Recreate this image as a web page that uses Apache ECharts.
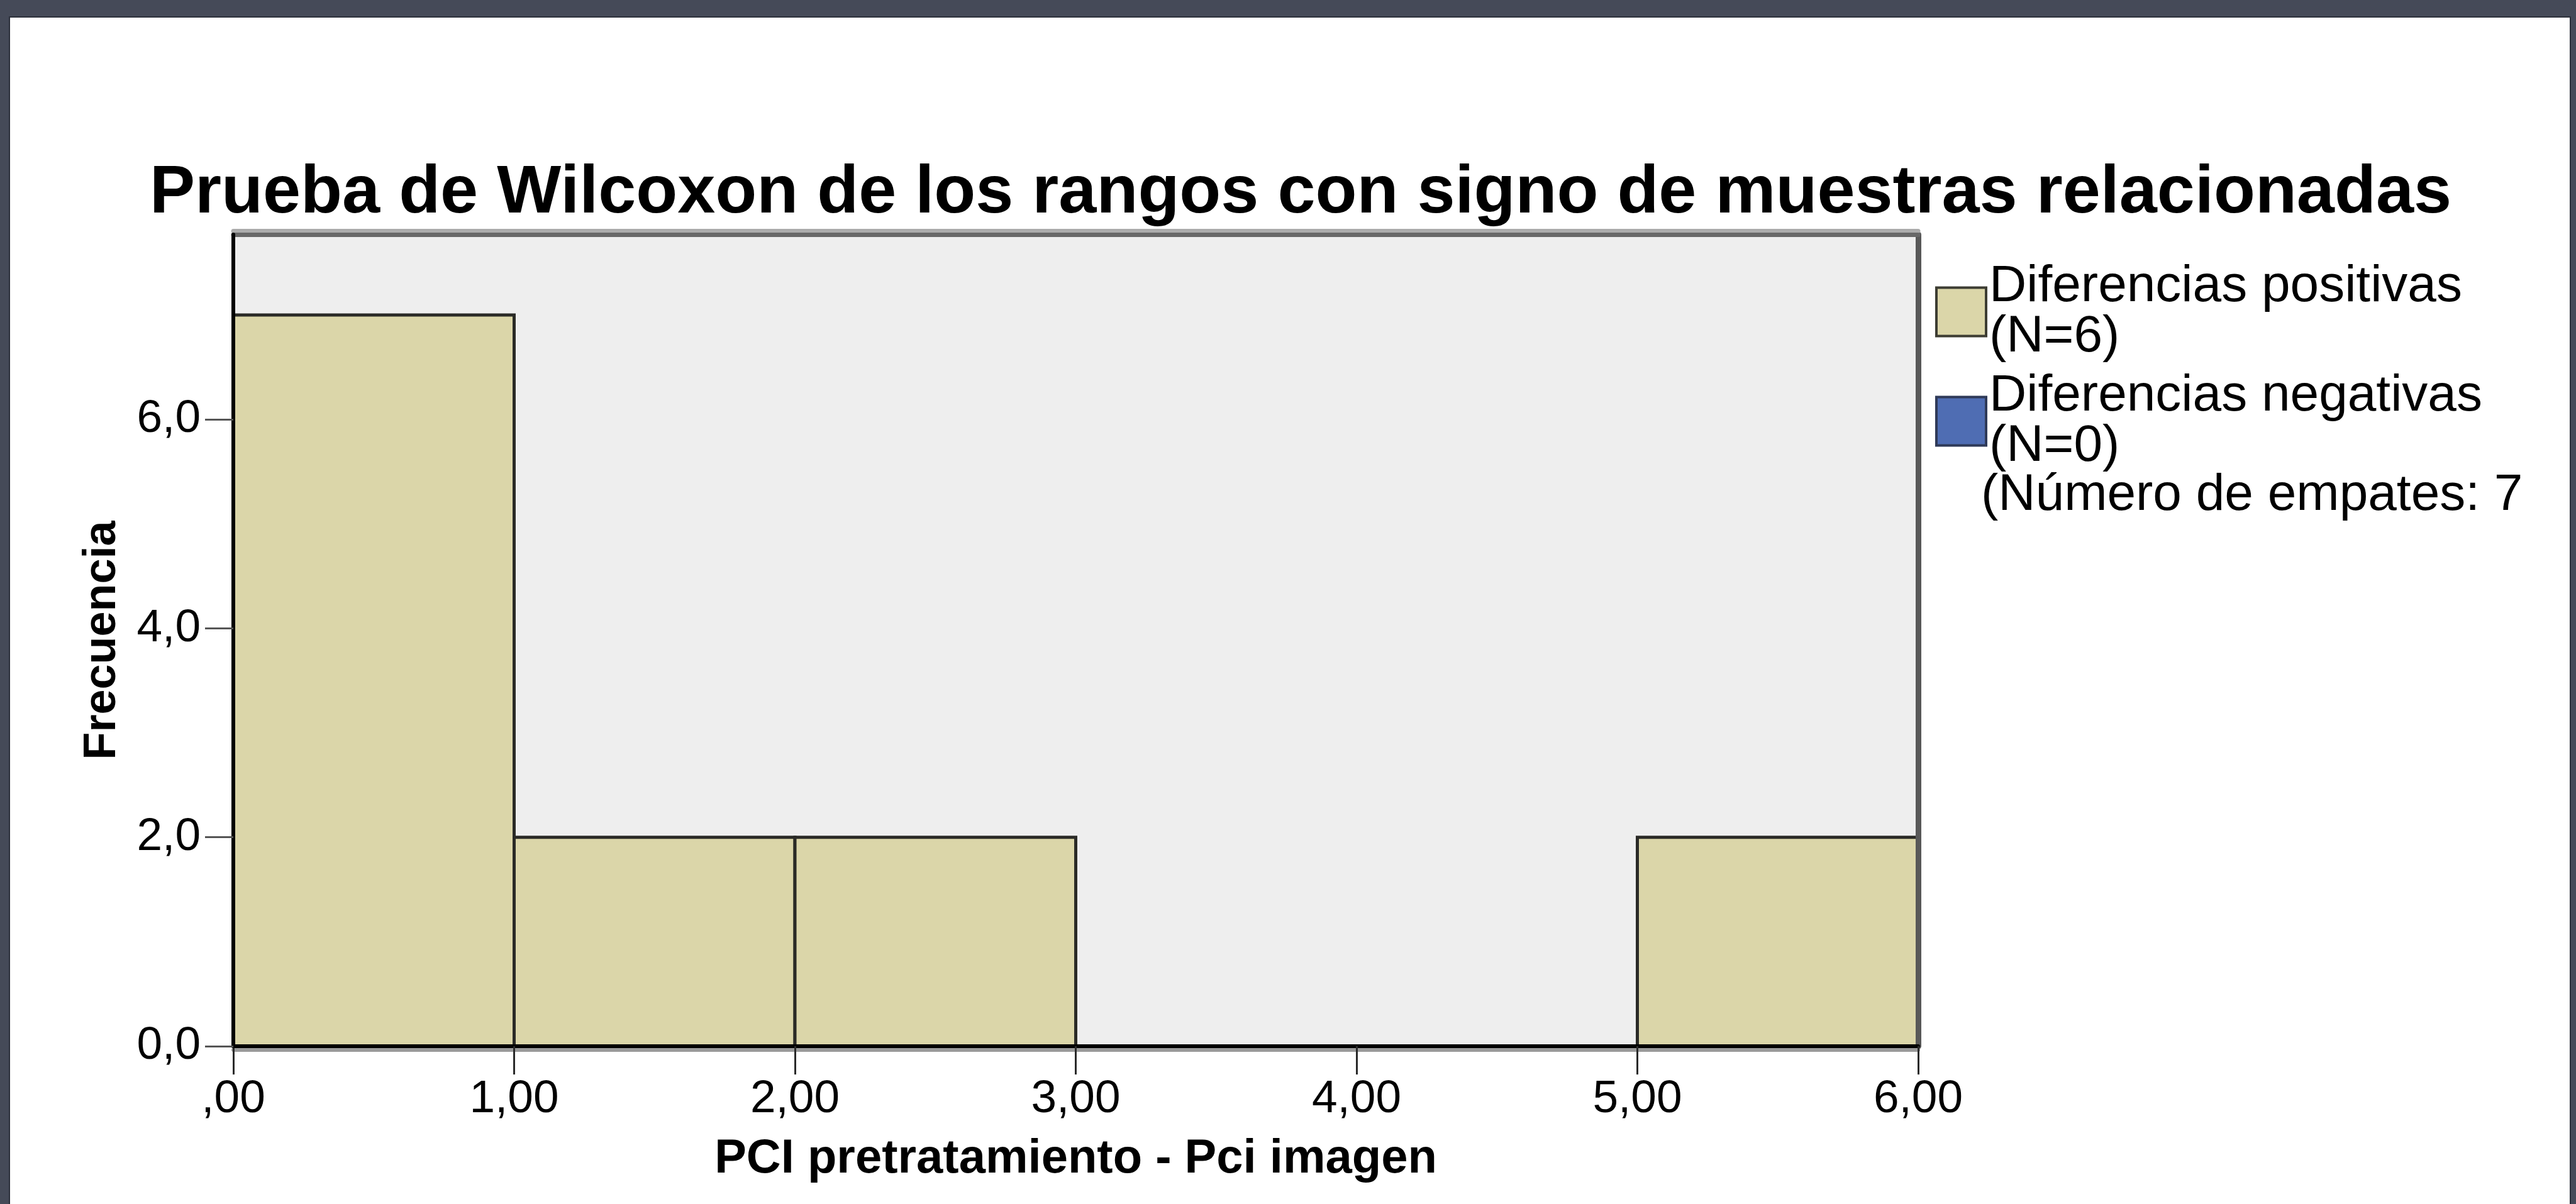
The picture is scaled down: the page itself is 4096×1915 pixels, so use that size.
<!DOCTYPE html>
<html>
<head>
<meta charset="utf-8">
<script src="https://cdn.jsdelivr.net/npm/echarts@6/dist/echarts.min.js"></script>
<style>
html,body{margin:0;padding:0;background:#454a58;}
#chart{width:4096px;height:1915px;}
</style>
</head>
<body>
<div id="chart"></div>
<script>
// ---- data ----
const binStart = [0, 1, 2, 3, 4, 5];
const binEnd   = [1, 2, 3, 4, 5, 6];
const counts   = [7, 2, 2, 0, 0, 2];
const xTickValues = [0, 1, 2, 3, 4, 5, 6];
const xTickLabels = [",00", "1,00", "2,00", "3,00", "4,00", "5,00", "6,00"];
const yTickValues = [0, 2, 4, 6];
const yTickLabels = ["0,0", "2,0", "4,0", "6,0"];
const seriesNames = ["Diferencias positivas\n(N=6)", "Diferencias negativas\n(N=0)"];
const tiesText = "(Número de empates: 7";
const titleText = "Prueba de Wilcoxon de los rangos con signo de muestras relacionadas";
const xAxisTitle = "PCI pretratamiento - Pci imagen";
const yAxisTitle = "Frecuencia";

const FONT = "'Liberation Sans', Arial, sans-serif";
const POS_FILL = "#dbd6a9";
const NEG_FILL = "#4f6db3";

const histData = binStart.map((s, i) => [s, binEnd[i], counts[i]]);

const chart = echarts.init(document.getElementById('chart'), null, {renderer: 'canvas'});

const option = {
  backgroundColor: '#454a58',
  animation: false,
  graphic: [
    {
      type: 'rect', z: -10, silent: true,
      shape: {x: 15, y: 27, width: 4072, height: 1900},
      style: {fill: '#ffffff', stroke: '#2c303b', lineWidth: 2}
    },
    {
      type: 'text', z: 10, silent: true,
      style: {
        text: tiesText, x: 3150, y: 829,
        font: "82px " + FONT, fill: '#000',
        textAlign: 'left', textVerticalAlign: 'bottom'
      }
    }
  ],
  title: {
    text: titleText,
    left: 238, top: 254, padding: 0,
    textStyle: {fontFamily: FONT, fontWeight: 'bold', fontSize: 108, color: '#000'}
  },
  legend: {
    orient: 'vertical',
    left: 3077, top: 415, padding: 0,
    itemWidth: 79, itemHeight: 77, itemGap: 12,
    selectedMode: false,
    icon: 'rect',
    textStyle: {fontFamily: FONT, fontSize: 82, lineHeight: 80, color: '#000'},
    data: [
      {name: seriesNames[0], itemStyle: {color: POS_FILL, borderColor: '#3d3d33', borderWidth: 4}},
      {name: seriesNames[1], itemStyle: {color: NEG_FILL, borderColor: '#2f3a58', borderWidth: 4}}
    ]
  },
  grid: {
    left: 371, right: 1046, top: 373, bottom: 251,
    show: true, backgroundColor: '#eeeeee', borderWidth: 0
  },
  xAxis: [
    {
      type: 'value', position: 'bottom', min: 0, max: 6, interval: 1, z: 10,
      axisLine: {show: true, onZero: false, lineStyle: {color: '#000', width: 6, shadowColor: '#9a9a9a', shadowOffsetY: 6, shadowBlur: 0}},
      axisTick: {show: true, length: 45, lineStyle: {color: '#2a2a2a', width: 3}},
      axisLabel: {
        margin: 48, fontFamily: FONT, fontSize: 73, color: '#000',
        formatter: v => { const i = xTickValues.indexOf(v); return i >= 0 ? xTickLabels[i] : ''; }
      },
      splitLine: {show: false},
      name: xAxisTitle, nameLocation: 'middle', nameGap: 142,
      nameTextStyle: {fontFamily: FONT, fontWeight: 'bold', fontSize: 76, color: '#000'}
    },
    {
      type: 'value', position: 'top', min: 0, max: 6, z: 10,
      axisLine: {show: true, onZero: false, lineStyle: {color: '#686868', width: 7, shadowColor: '#acacac', shadowOffsetY: -6, shadowBlur: 0}},
      axisTick: {show: false}, axisLabel: {show: false}, splitLine: {show: false}
    }
  ],
  yAxis: [
    {
      type: 'value', position: 'left', min: 0, max: 7.77, interval: 2, z: 11,
      axisLine: {show: true, onZero: false, lineStyle: {color: '#000', width: 6}},
      axisTick: {show: true, length: 45, customValues: yTickValues, lineStyle: {color: '#555', width: 3}},
      axisLabel: {
        margin: 52, fontFamily: FONT, fontSize: 73, color: '#000',
        customValues: yTickValues,
        formatter: v => { const i = yTickValues.indexOf(v); return i >= 0 ? yTickLabels[i] : ''; }
      },
      splitLine: {show: false},
      name: yAxisTitle, nameLocation: 'middle', nameGap: 172, nameRotate: 90,
      nameTextStyle: {fontFamily: FONT, fontWeight: 'bold', fontSize: 72, color: '#000'}
    },
    {
      type: 'value', position: 'right', min: 0, max: 7.77, z: 10,
      axisLine: {show: true, onZero: false, lineStyle: {color: '#585858', width: 9}},
      axisTick: {show: false}, axisLabel: {show: false}, splitLine: {show: false}
    }
  ],
  series: [
    {
      type: 'custom',
      name: seriesNames[0],
      xAxisIndex: 0, yAxisIndex: 0,
      itemStyle: {color: POS_FILL},
      encode: {x: [0, 1], y: 2},
      data: histData,
      renderItem: function (params, api) {
        const h = api.value(2);
        if (!(h > 0)) return null;
        const p0 = api.coord([api.value(0), h]);
        const p1 = api.coord([api.value(1), 0]);
        return {
          type: 'rect',
          shape: {x: p0[0], y: p0[1], width: p1[0] - p0[0], height: p1[1] - p0[1]},
          style: {fill: POS_FILL, stroke: '#2a2a26', lineWidth: 5}
        };
      }
    },
    {
      type: 'custom',
      name: seriesNames[1],
      xAxisIndex: 0, yAxisIndex: 0,
      itemStyle: {color: NEG_FILL},
      encode: {x: [0, 1], y: 2},
      data: [],
      renderItem: function () { return null; }
    }
  ]
};

chart.setOption(option);
</script>
</body>
</html>
